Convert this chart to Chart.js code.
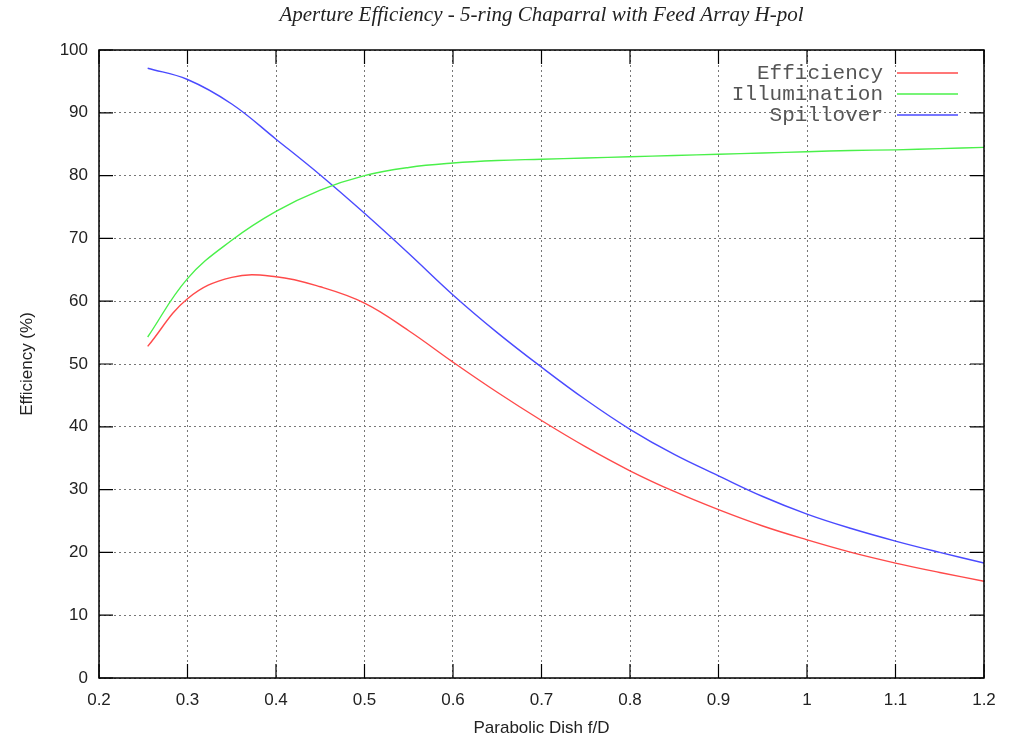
<!DOCTYPE html>
<html>
<head>
<meta charset="utf-8">
<script src="https://cdn.jsdelivr.net/npm/chart.js@4/dist/chart.umd.min.js"></script>
<style>
  html, body { margin: 0; padding: 0; background: #fff; }
  #wrap { width: 1016px; height: 740px; }
</style>
</head>
<body>
<div id="wrap"><canvas id="chart"></canvas></div>
<script>
// Data
const fdRatio      = [0.255, 0.30, 0.35, 0.40, 0.45, 0.50, 0.55, 0.60, 0.65, 0.70, 0.75, 0.80, 0.85, 0.90, 0.95, 1.00, 1.05, 1.10, 1.15, 1.20];
const efficiency   = [52.8, 60.4, 63.8, 63.9, 62.3, 59.7, 55.3, 50.3, 45.5, 41.0, 36.8, 33.0, 29.7, 26.8, 24.2, 22.0, 20.0, 18.3, 16.8, 15.4];
const illumination = [54.3, 63.6, 69.7, 74.3, 77.7, 80.0, 81.3, 82.0, 82.4, 82.6, 82.8, 83.0, 83.2, 83.4, 83.6, 83.8, 84.0, 84.1, 84.3, 84.5];
const spillover    = [97.1, 95.3, 91.4, 85.8, 80.1, 74.0, 67.6, 61.0, 55.0, 49.5, 44.3, 39.6, 35.6, 32.2, 28.9, 26.1, 23.8, 21.8, 20.0, 18.3];
const xTicks = [0.2, 0.3, 0.4, 0.5, 0.6, 0.7, 0.8, 0.9, 1, 1.1, 1.2];
const yTicks = [0, 10, 20, 30, 40, 50, 60, 70, 80, 90, 100];

const seriesNames  = ['Efficiency', 'Illumination', 'Spillover'];
const seriesColors = ['#ff4a4a', '#4af04a', '#4a4aff'];

const toPoints = ys => ys.map((y, i) => ({ x: fdRatio[i], y: y }));

// gnuplot-like frame, mirrored inward ticks, title and legend
const framePlugin = {
  id: 'frame',
  afterDraw(chart) {
    const { ctx, chartArea: a, scales } = chart;
    const tick = 14;
    ctx.save();
    ctx.strokeStyle = '#000';
    ctx.lineWidth = 1.5;
    ctx.setLineDash([]);
    ctx.strokeRect(a.left, a.top, a.right - a.left, a.bottom - a.top);
    ctx.lineWidth = 1.2;
    ctx.beginPath();
    xTicks.forEach(v => {
      const px = scales.x.getPixelForValue(v);
      ctx.moveTo(px, a.bottom); ctx.lineTo(px, a.bottom - tick);
      ctx.moveTo(px, a.top); ctx.lineTo(px, a.top + tick);
    });
    yTicks.forEach(v => {
      const py = scales.y.getPixelForValue(v);
      ctx.moveTo(a.left, py); ctx.lineTo(a.left + tick, py);
      ctx.moveTo(a.right, py); ctx.lineTo(a.right - tick, py);
    });
    ctx.stroke();

    // title
    ctx.fillStyle = '#222';
    ctx.font = 'italic 21px "Liberation Serif", "DejaVu Serif", serif';
    ctx.textAlign = 'center';
    ctx.textBaseline = 'middle';
    ctx.fillText('Aperture Efficiency - 5-ring Chaparral with Feed Array H-pol', (a.left + a.right) / 2, 15);

    // legend (text right aligned, line sample on the right)
    ctx.font = '21px "Liberation Mono", "DejaVu Sans Mono", monospace';
    ctx.textAlign = 'right';
    const textRight = a.right - 101;
    const rowY = [73, 94, 115];
    seriesNames.forEach((name, i) => {
      ctx.fillStyle = '#555';
      ctx.fillText(name, textRight, rowY[i]);
      ctx.strokeStyle = seriesColors[i];
      ctx.lineWidth = 1.4;
      ctx.beginPath();
      ctx.moveTo(textRight + 14, rowY[i]);
      ctx.lineTo(textRight + 75, rowY[i]);
      ctx.stroke();
    });
    ctx.restore();
  }
};

const tickFont = { family: '"Liberation Sans", Arial, sans-serif', size: 17 };

new Chart(document.getElementById('chart'), {
  type: 'line',
  data: {
    datasets: seriesNames.map((name, i) => ({
      label: name,
      data: toPoints([efficiency, illumination, spillover][i]),
      borderColor: seriesColors[i],
      borderWidth: 1.4,
      pointRadius: 0,
      tension: 0.4,
      fill: false
    }))
  },
  options: {
    responsive: true,
    maintainAspectRatio: false,
    animation: false,
    layout: { padding: { top: 50, right: 32, left: 0, bottom: 0 } },
    plugins: {
      legend: { display: false },
      title: { display: false },
      tooltip: { enabled: false }
    },
    scales: {
      x: {
        type: 'linear',
        min: 0.2,
        max: 1.2,
        afterBuildTicks: s => { s.ticks = xTicks.map(v => ({ value: v })); },
        afterFit: s => { s.height = 62; },
        ticks: {
          color: '#222',
          font: tickFont,
          padding: 12,
          maxRotation: 0,
          callback: v => String(Math.round(v * 10) / 10)
        },
        grid: { color: '#777', lineWidth: 1, drawTicks: false },
        border: { display: false, dash: [2, 3] },
        title: {
          display: true,
          text: 'Parabolic Dish f/D',
          color: '#222',
          font: tickFont,
          padding: { top: 0, bottom: 1 }
        }
      },
      y: {
        min: 0,
        max: 100,
        afterBuildTicks: s => { s.ticks = yTicks.map(v => ({ value: v })); },
        afterFit: s => { s.width = 99; },
        ticks: { color: '#222', font: tickFont, padding: 11 },
        grid: { color: '#777', lineWidth: 1, drawTicks: false },
        border: { display: false, dash: [2, 3] },
        title: {
          display: true,
          text: 'Efficiency (%)',
          color: '#222',
          font: tickFont,
          padding: { top: 17, bottom: 0 }
        }
      }
    }
  },
  plugins: [framePlugin]
});
</script>
</body>
</html>
